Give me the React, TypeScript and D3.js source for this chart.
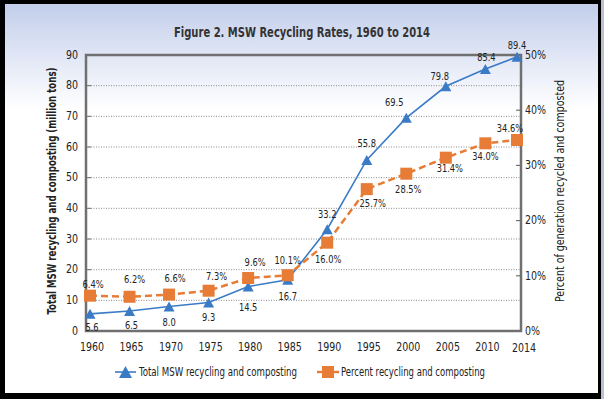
import { useMemo } from "react";
import * as d3 from "d3";

const W = 604;
const H = 399;
const PLOT = { left: 86, right: 521, top: 55, bottom: 331 };

const years = [1960, 1965, 1970, 1975, 1980, 1985, 1990, 1995, 2000, 2005, 2010, 2014];
const totalTons = [5.6, 6.5, 8.0, 9.3, 14.5, 16.7, 33.2, 55.8, 69.5, 79.8, 85.4, 89.4];
const percentRecycled = [6.4, 6.2, 6.6, 7.3, 9.6, 10.1, 16.0, 25.7, 28.5, 31.4, 34.0, 34.6];
const leftTicks = [0, 10, 20, 30, 40, 50, 60, 70, 80, 90];
const rightTicks = [0, 10, 20, 30, 40, 50];

// label nudges relative to their point (Excel placed these by hand-ish)
const TOTAL_LABEL_OFFSETS = [
  [2, 13], [2, 14], [0, 16], [0, 15], [0, 21], [0, 16],
  [0, -15], [0, -17], [-12, -16], [-6, -10], [1, -12], [0, -12],
];
const PCT_LABEL_OFFSETS = [
  [3, -11], [5, -17], [6, -16], [8, -14], [7, -16], [0, -15],
  [1, 17], [6, 14], [2, 16], [4, 11], [0, 13], [-7, -12],
];

const BLUE = "#3b7bc6";
const ORANGE = "#e67c35";
const AXIS = "#707070";
const FONT = "'DejaVu Sans Condensed', 'DejaVu Sans', sans-serif";

const triangle = (cx: number, cy: number, w: number, h: number) =>
  `M${cx},${cy - h / 2}L${cx + w / 2},${cy + h / 2}L${cx - w / 2},${cy + h / 2}Z`;

// narrow text, squeezed horizontally so it reads like the original condensed face
const NText = ({ x, y, children, anchor = "start", size = 11, weight = "normal", sx = 0.88 }: any) => (
  <text
    transform={`translate(${x},${y}) scale(${sx},1)`}
    textAnchor={anchor}
    dominantBaseline="central"
    fontSize={size}
    fontWeight={weight}
    fill="#222"
  >
    {children}
  </text>
);

export default function App() {
  const x = useMemo(() => d3.scaleLinear().domain([1960, 2014]).range([90, 517]), []);
  const yLeft = useMemo(() => d3.scaleLinear().domain([0, 90]).range([PLOT.bottom, PLOT.top]), []);
  const yRight = useMemo(() => d3.scaleLinear().domain([0, 50]).range([PLOT.bottom, PLOT.top]), []);

  const totalLine = d3
    .line<number>()
    .x((_, i) => x(years[i]))
    .y((d) => yLeft(d))(totalTons);
  const pctLine = d3
    .line<number>()
    .x((_, i) => x(years[i]))
    .y((d) => yRight(d))(percentRecycled);

  return (
    <div style={{ position: "fixed", left: 0, top: 0 }}>
      <svg width={W} height={H} style={{ display: "block", fontFamily: FONT }}>
        <defs>
          <linearGradient id="panelBg" x1="0" y1="0" x2="0" y2="1">
            <stop offset="0" stopColor="#c2ceeb" />
            <stop offset="0.27" stopColor="#ffffff" />
            <stop offset="1" stopColor="#ffffff" />
          </linearGradient>
        </defs>
        <rect x={0} y={0} width={W} height={H} fill="#000" />
        <rect x={601} y={0} width={3} height={H} fill="#b9c1d3" />
        <rect x={5} y={4} width={593} height={389} fill="url(#panelBg)" />

        <text
          x={302}
          y={32}
          textAnchor="middle"
          dominantBaseline="central"
          fontWeight="bold"
          fontSize={13.5}
          fill="#333"
          textLength={256}
          lengthAdjust="spacingAndGlyphs"
        >
          Figure 2. MSW Recycling Rates, 1960 to 2014
        </text>

        {/* gridlines */}
        {leftTicks.slice(1, -1).map((t) => (
          <g key={t}>
            <line x1={PLOT.left} x2={PLOT.right} y1={yLeft(t)} y2={yLeft(t)} stroke="#8a8a8a" strokeWidth={1} strokeDasharray="1,1.5" />
            <line x1={PLOT.left} x2={PLOT.left + 5} y1={yLeft(t)} y2={yLeft(t)} stroke={AXIS} strokeWidth={1} />
          </g>
        ))}
        {rightTicks.slice(1, -1).map((t) => (
          <line key={t} x1={PLOT.right - 5} x2={PLOT.right} y1={yRight(t)} y2={yRight(t)} stroke={AXIS} strokeWidth={1.2} />
        ))}

        {/* frame */}
        <rect x={PLOT.left} y={PLOT.top} width={PLOT.right - PLOT.left} height={PLOT.bottom - PLOT.top} fill="none" stroke={AXIS} strokeWidth={2.5} />

        {/* tick labels */}
        {leftTicks.map((t) => (
          <NText key={t} x={78} y={yLeft(t)} anchor="end" size={12}>
            {t}
          </NText>
        ))}
        {rightTicks.map((t) => (
          <NText key={t} x={525} y={yRight(t)} size={12}>
            {t}%
          </NText>
        ))}
        {years.map((yr) => (
          <NText key={yr} x={x(yr) + (yr === 2014 ? 7 : 2)} y={yr === 2014 ? 348 : 347} anchor="middle" size={12}>
            {yr}
          </NText>
        ))}

        {/* axis titles */}
        <text
          transform={`translate(52,191) rotate(-90)`}
          textAnchor="middle"
          dominantBaseline="central"
          fontWeight="bold"
          fontSize={12}
          fill="#222"
          textLength={247}
          lengthAdjust="spacingAndGlyphs"
        >
          Total MSW recycling and composting (million tons)
        </text>
        <text
          transform={`translate(560,191) rotate(-90)`}
          textAnchor="middle"
          dominantBaseline="central"
          fontSize={12}
          fill="#222"
          textLength={222}
          lengthAdjust="spacingAndGlyphs"
        >
          Percent of generation recycled and composted
        </text>

        {/* series */}
        <path d={totalLine ?? ""} fill="none" stroke={BLUE} strokeWidth={1.6} />
        <path d={pctLine ?? ""} fill="none" stroke={ORANGE} strokeWidth={2.5} strokeDasharray="7,4" />
        {totalTons.map((v, i) => (
          <path key={i} d={triangle(x(years[i]), yLeft(v), 11, 10)} fill={BLUE} />
        ))}
        {percentRecycled.map((v, i) => (
          <rect key={i} x={x(years[i]) - 6} y={yRight(v) - 6} width={12} height={12} fill={ORANGE} />
        ))}

        {/* data labels */}
        {totalTons.map((v, i) => (
          <NText
            key={i}
            x={x(years[i]) + TOTAL_LABEL_OFFSETS[i][0]}
            y={yLeft(v) + TOTAL_LABEL_OFFSETS[i][1]}
            anchor="middle"
            size={10.5}
          >
            {d3.format(".1f")(v)}
          </NText>
        ))}
        {percentRecycled.map((v, i) => (
          <NText
            key={i}
            x={x(years[i]) + PCT_LABEL_OFFSETS[i][0]}
            y={yRight(v) + PCT_LABEL_OFFSETS[i][1]}
            anchor="middle"
            size={10.5}
          >
            {d3.format(".1f")(v)}%
          </NText>
        ))}

        {/* legend */}
        <g>
          <line x1={115} x2={136} y1={372} y2={372} stroke={BLUE} strokeWidth={1.6} />
          <path d={triangle(125.5, 372, 13, 12)} fill={BLUE} />
          <text x={139} y={372} dominantBaseline="central" fontSize={12} fill="#222" textLength={158} lengthAdjust="spacingAndGlyphs">
            Total MSW recycling and composting
          </text>
          <line x1={317} x2={339} y1={372} y2={372} stroke={ORANGE} strokeWidth={2.5} />
          <rect x={322} y={366} width={12} height={12} fill={ORANGE} />
          <text x={341} y={372} dominantBaseline="central" fontSize={12} fill="#222" textLength={144} lengthAdjust="spacingAndGlyphs">
            Percent recycling and composting
          </text>
        </g>
      </svg>
    </div>
  );
}
